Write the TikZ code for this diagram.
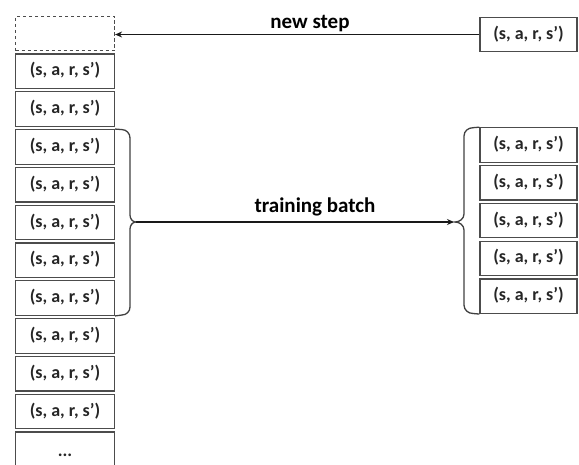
\documentclass[tikz,border=0pt]{standalone}
\usepackage{fontspec}
\setmainfont{Carlito}
\usetikzlibrary{arrows.meta}
\tikzset{
  box/.style={draw=black!70, line width=1.2pt, minimum width=99pt, minimum height=34.5pt,
    inner sep=0pt, text height=13pt, text depth=4pt, text=black!85,
    font=\fontsize{18}{20}\selectfont\bfseries},
  rbox/.style={box, minimum width=97pt},
  dbox/.style={box, dashed, dash pattern=on 3.5pt off 2.5pt},
  lbl/.style={font=\fontsize{21}{24}\selectfont\bfseries, inner sep=0pt, anchor=base},
  arr/.style={line width=1.3pt, black!90, -{Stealth[length=7pt,width=6pt]}},
  brc/.style={line width=1.3pt, black!75},
}
\begin{document}
\begin{tikzpicture}[x=1pt,y=-1pt]
\useasboundingbox (0,0) rectangle (579,464);
% left column (replay memory)
\node[dbox] (L0) at (65,33.5) {};
\foreach \i in {1,...,10}{
  \node[box] (L\i) at (65,33.5+37.8*\i) {(s, a, r, s')};
}
\node[box, text height=16pt, text depth=1pt] (L11) at (65,33.5+37.8*11) {...};
% new step box
\node[rbox] (N) at (528.5,34.5) {(s, a, r, s')};
% batch boxes
\foreach \j in {1,...,5}{
  \node[rbox] (B\j) at (528.5,107.2+37.8*\j) {(s, a, r, s')};
}
% new step arrow
\draw[arr] (N.west) -- (N.west -| L0.east);
\node[lbl] (ns) at (310,28) {new step};
% left brace
\coordinate (lt) at (136,222);
\draw[brc] (L3.north east) -- (122,129.6) to[out=0,in=90] (130,138) -- (130,215)
  to[out=-90,in=180] (lt) to[out=180,in=90] (130,229) -- (130,307)
  to[out=-90,in=0] (122,315) -- (L7.south east);
% right brace
\coordinate (rt) at (455,222);
\draw[brc] (B1.north west) -- (473,127.7) to[out=180,in=90] (464,136) -- (464,214)
  to[out=-90,in=0] (rt) to[out=0,in=90] (464,230) -- (464,305)
  to[out=-90,in=180] (473,313.5) -- (B5.south west);
% training batch arrow
\draw[arr] (lt) -- ([xshift=-1pt]rt);
\node[lbl] (tb) at (315,212) {training batch};
\end{tikzpicture}
\end{document}
